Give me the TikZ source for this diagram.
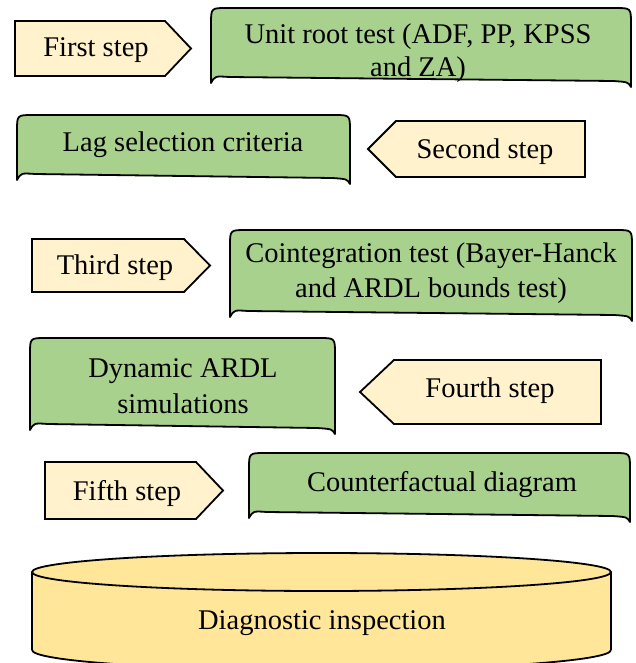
\documentclass[tikz,border=0pt]{standalone}
\usepackage{fontspec}
\setmainfont{Liberation Serif}
\definecolor{greenfill}{HTML}{A9D18E}
\definecolor{creamfill}{HTML}{FFF2CC}
\definecolor{cylfill}{HTML}{FFE699}
\newcommand\docbox[4]{%
  \draw[greenbox] (#1,#4) -- (#1,#2+16) .. controls (#1,#2) .. (#1+16,#2)
    -- (#3-16,#2) .. controls (#3,#2) .. (#3,#2+16)
    -- (#3,#4+4) .. controls (#3-3,#4-1) .. (#3-18,#4-2)
    -- (#1+18,#4-6) .. controls (#1+4,#4-7) .. (#1,#4) -- cycle;}
\begin{document}
\begin{tikzpicture}[x=1pt,y=-1pt,
  stepshape/.style={fill=creamfill,draw=black,line width=1.8pt,line join=miter},
  greenbox/.style={fill=greenfill,draw=black,line width=1.8pt,line join=round},
  cylshape/.style={fill=cylfill},
  cylline/.style={draw=black,line width=1.8pt},
  lbl/.style={font=\fontsize{28.5}{34}\selectfont,inner sep=0pt,anchor=base}]
\useasboundingbox (0,0) rectangle (635,663);

% step arrows
\draw[stepshape] (15,21) -- (165,21) -- (191,48.5) -- (165,76) -- (15,76) -- cycle;
\draw[stepshape] (585,121) -- (396,121) -- (368,149) -- (396,177) -- (585,177) -- cycle;
\draw[stepshape] (32,239) -- (184,239) -- (210,265.5) -- (184,292) -- (32,292) -- cycle;
\draw[stepshape] (601,360) -- (394,360) -- (360,392) -- (394,424) -- (601,424) -- cycle;
\draw[stepshape] (45,462) -- (196,462) -- (223,490.5) -- (196,519) -- (45,519) -- cycle;

% green boxes
\docbox{211}{8}{631}{83}
\docbox{17}{115}{350}{180}
\docbox{230}{230}{632}{317}
\docbox{30}{338}{335}{430}
\docbox{249}{453}{630}{518}

% cylinder
\fill[cylshape] (32,572) rectangle (611,650);
\fill[cylshape] (321.5,650) ellipse [x radius=289.5, y radius=20];
\draw[cylline] (32,572) -- (32,650);
\draw[cylline] (611,572) -- (611,650);
\draw[cylline] (611,650) arc [start angle=0, end angle=180, x radius=289.5, y radius=20];
\filldraw[cylshape,cylline] (321.5,572) ellipse [x radius=289.5, y radius=19];

% labels
\node[lbl] (s1) at (96,57) {First step};
\node[lbl] (u1) at (418,44) {Unit root test (ADF, PP, KPSS};
\node[lbl] (u2) at (418,77) {and ZA)};
\node[lbl] (lag) at (183,152) {Lag selection criteria};
\node[lbl] (s2) at (485,158) {Second step};
\node[lbl] (s3) at (115,274) {Third step};
\node[lbl] (c1) at (431,262) {Cointegration test (Bayer-Hanck};
\node[lbl] (c2) at (431,297) {and ARDL bounds test)};
\node[lbl] (d1) at (183,377) {Dynamic ARDL};
\node[lbl] (d2) at (183,413) {simulations};
\node[lbl] (s4) at (490,397) {Fourth step};
\node[lbl] (s5) at (127,500) {Fifth step};
\node[lbl] (cf) at (442,491) {Counterfactual diagram};
\node[lbl] (diag) at (322,629) {Diagnostic inspection};
\end{tikzpicture}
\end{document}
